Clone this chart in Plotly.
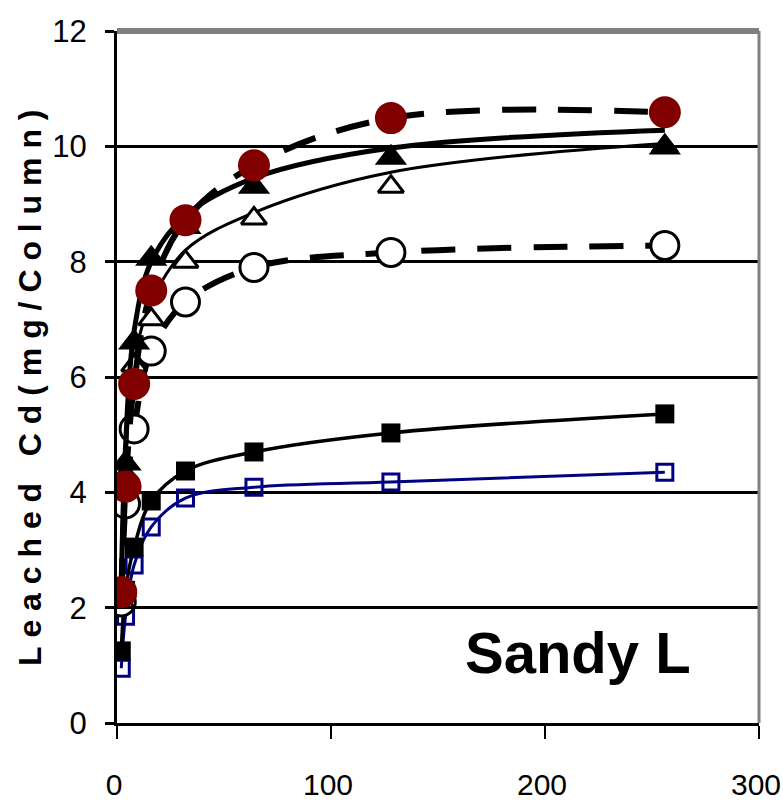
import plotly.graph_objects as go

# Data
time_x = [2, 4, 8, 16, 32, 64, 128, 256]
red_circles = [2.27, 4.1, 5.88, 7.5, 8.72, 9.67, 10.49, 10.59]
filled_tri = [2.3, 4.5, 6.6, 8.05, 8.6, 9.3, 9.8, 9.98]
filled_tri_fit = [2.4, 4.8, 6.8, 8.0, 8.8, 9.45, 9.97, 10.28]
open_tri = [2.1, 4.3, 6.2, 7.0, 8.0, 8.75, 9.3, 10.0]
open_tri_fit = [2.2, 4.4, 6.3, 7.3, 8.2, 8.85, 9.55, 10.05]
open_circles = [2.1, 3.8, 5.1, 6.45, 7.3, 7.9, 8.16, 8.28]
filled_sq = [1.25, 2.3, 3.05, 3.85, 4.37, 4.7, 5.03, 5.36]
open_sq = [0.95, 1.85, 2.74, 3.4, 3.9, 4.09, 4.18, 4.35]

x_ticks = [0, 100, 200, 300]
y_ticks = [0, 2, 4, 6, 8, 10, 12]
y_title = "Leached Cd(mg/Column)"
panel_label = "Sandy L"

BLACK = "#000000"
NAVY = "#000080"
MAROON = "#800000"

fig = go.Figure()

# blue open squares
fig.add_trace(go.Scatter(x=time_x, y=open_sq, mode="lines+markers",
                         line=dict(color=NAVY, width=3, shape="spline"),
                         marker=dict(symbol="square-open", size=16, color=NAVY,
                                     line=dict(width=3, color=NAVY))))
# filled squares
fig.add_trace(go.Scatter(x=time_x, y=filled_sq, mode="lines+markers",
                         line=dict(color=BLACK, width=3.5, shape="spline"),
                         marker=dict(symbol="square", size=19, color=BLACK)))
# open circles, dashed
fig.add_trace(go.Scatter(x=time_x, y=open_circles, mode="lines+markers",
                         line=dict(color=BLACK, width=6, dash="34px,22px", shape="spline"),
                         marker=dict(symbol="circle", size=28, color="white",
                                     line=dict(width=3, color=BLACK))))
# open triangles line + markers
fig.add_trace(go.Scatter(x=time_x, y=open_tri_fit, mode="lines",
                         line=dict(color=BLACK, width=3, shape="spline")))
fig.add_trace(go.Scatter(x=time_x, y=open_tri, mode="markers",
                         marker=dict(symbol="triangle-up", size=22, color="white",
                                     line=dict(width=3, color=BLACK))))
# filled triangles line + markers
fig.add_trace(go.Scatter(x=time_x, y=filled_tri_fit, mode="lines",
                         line=dict(color=BLACK, width=5, shape="spline")))
fig.add_trace(go.Scatter(x=time_x, y=filled_tri, mode="markers",
                         marker=dict(symbol="triangle-up", size=28, color=BLACK)))
# red circles, dashed
fig.add_trace(go.Scatter(x=time_x, y=red_circles, mode="lines",
                         line=dict(color=BLACK, width=6, dash="34px,22px", shape="spline")))
fig.add_trace(go.Scatter(x=time_x, y=red_circles, mode="markers",
                         marker=dict(symbol="circle", size=32, color=MAROON)))

tick_font = dict(family="Liberation Sans Narrow, Arial Narrow, Liberation Sans, Arial", size=31, color=BLACK)
xtick_font = dict(family="Liberation Sans Narrow, Arial Narrow, Liberation Sans, Arial", size=30, color=BLACK)

fig.update_layout(
    width=783, height=809,
    margin=dict(l=117, r=24, t=31, b=86),
    paper_bgcolor="white", plot_bgcolor="white",
    showlegend=False,
    xaxis=dict(range=[0, 300], tickvals=x_ticks, ticktext=[str(v) for v in x_ticks],
               showgrid=False, zeroline=False, showline=True, linecolor=BLACK, linewidth=3,
               ticks="outside", ticklen=13, tickwidth=2, tickcolor=BLACK, automargin=False,
               tickfont=xtick_font, ticklabelstandoff=20, ticklabelshift=-3,
               ticklabeloverflow="allow"),
    yaxis=dict(range=[0, 12], tickvals=y_ticks, ticktext=[str(v) for v in y_ticks],
               showgrid=True, gridcolor=BLACK, gridwidth=2.5, zeroline=False,
               showline=True, linecolor=BLACK, linewidth=3, automargin=False,
               ticks="outside", ticklen=9, tickwidth=2.5, tickcolor=BLACK,
               tickfont=tick_font, ticklabelstandoff=12),
    shapes=[
        dict(type="line", xref="paper", yref="paper", x0=0, x1=1, y0=1, y1=1,
             line=dict(color="#808080", width=6)),
        dict(type="line", xref="paper", yref="paper", x0=1, x1=1, y0=0, y1=1,
             line=dict(color="#808080", width=3)),
    ],
)

spaced = "\u00a0".join(list(y_title.split(" ")[0])) + "\u00a0\u00a0\u00a0" + "\u00a0".join(list(y_title.split(" ")[1]))
fig.add_annotation(text=spaced, xref="paper", yref="paper",
                   x=(30 - 117) / 642, y=(723 - 388) / 692, textangle=-90,
                   showarrow=False, xanchor="center", yanchor="middle",
                   font=dict(family="Liberation Sans, Arial", size=32, color=BLACK, weight="bold"))
fig.add_annotation(text="<b>" + panel_label + "</b>", xref="paper", yref="paper",
                   x=(578 - 117) / 642, y=(723 - 652) / 692, showarrow=False,
                   xanchor="center", yanchor="middle",
                   font=dict(family="Liberation Sans, Arial", size=58, color=BLACK))

fig.write_html("out.html")
